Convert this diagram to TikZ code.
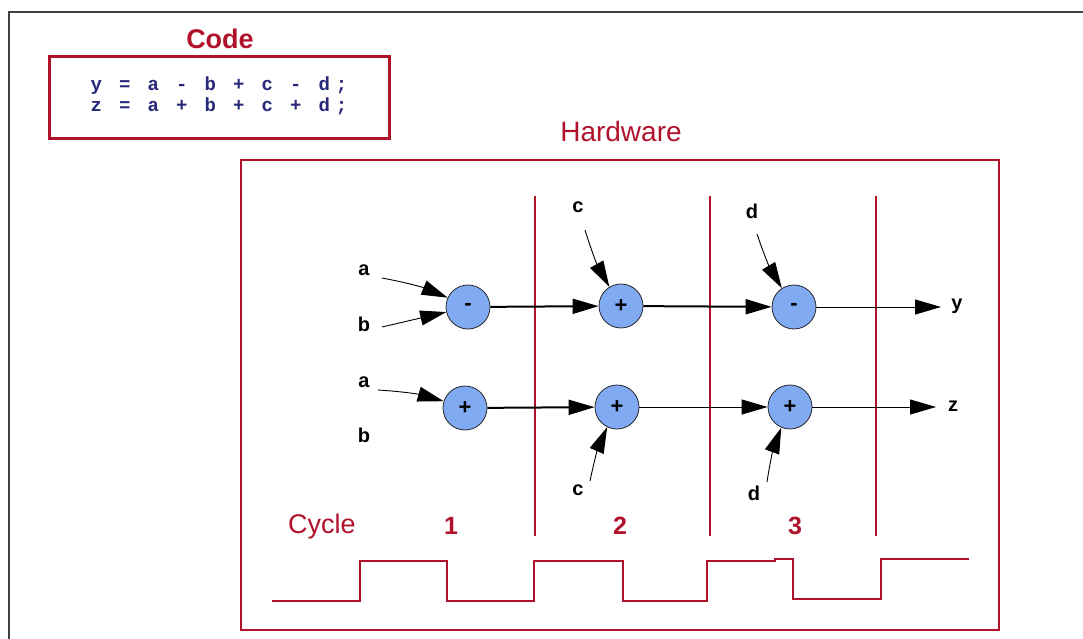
\documentclass[tikz,border=0pt]{standalone}
\usepackage{fontspec}
\setmainfont{Liberation Sans}
\newfontfamily\codefont[LetterSpace=30]{Liberation Mono}
\usetikzlibrary{arrows.meta}

\definecolor{hwred}{RGB}{176,18,44}
\definecolor{opblue}{RGB}{128,170,242}
\definecolor{codeblue}{RGB}{40,40,120}

\tikzset{
  op/.style={circle,draw=black!85,line width=0.8pt,fill=opblue,minimum size=44pt,
    inner sep=0pt,font=\fontsize{22}{22}\selectfont\bfseries},
  sig/.style={inner sep=1pt,font=\fontsize{20}{20}\selectfont\bfseries},
  flow/.style={-{Triangle[length=26pt,width=15pt]},line width=2pt},
  thinflow/.style={-{Triangle[length=26pt,width=15pt]},line width=0.9pt},
  title/.style={text=hwred,inner sep=0pt},
}

\begin{document}
\begin{tikzpicture}[x=1pt,y=-1pt]
\useasboundingbox (0,0) rectangle (1083,639);

% page frame
\draw[line width=2pt,black!75] (9,639) -- (9,12) -- (1083,12);

% source code
\node[title,font=\fontsize{27}{27}\selectfont\bfseries] (codetitle) at (220,39) {Code};
\draw[hwred,line width=3pt] (49,57) rectangle (389,139);
\node[text=codeblue,align=center,inner sep=0pt,font=\codefont\bfseries\fontsize{19}{21}\selectfont]
  (code) at (219,96) {y = a - b + c - d;\\z = a + b + c + d;};

% hardware
\node[title,font=\fontsize{28}{28}\selectfont] (hwtitle) at (621,131) {Hardware};
\draw[hwred,line width=2pt] (241,160) rectangle (999,630);
\foreach \x in {535,710,876}
  \draw[hwred,line width=1.3pt] (\x,196) -- (\x,536);

% operators
\node[op] (m1) at (468,307) {-};
\node[op] (p1) at (621,306) {+};
\node[op] (m2) at (794,307) {-};
\node[op] (p2) at (465,408) {+};
\node[op] (p3) at (617,407) {+};
\node[op] (p4) at (790,407) {+};

% inputs and outputs
\node[sig] (a1) at (364,270) {a};
\node[sig] (b1) at (364,324) {b};
\node[sig] (a2) at (364,382) {a};
\node[sig] (b2) at (364,435) {b};
\node[sig] (c1) at (578,207) {c};
\node[sig] (d1) at (752,211) {d};
\node[sig] (c2) at (578,490) {c};
\node[sig] (d2) at (754,493) {d};
\node[sig] (y) at (957,306) {y};
\node[sig] (z) at (953,406) {z};

\coordinate (ta1) at (382,278);
\coordinate (tb1) at (382,327);
\coordinate (ta2) at (378,390);
\coordinate (tc1) at (585,230);
\coordinate (td1) at (757,234);
\coordinate (tc2) at (590,481);
\coordinate (td2) at (767,482);
\coordinate (yout) at (941,307);
\coordinate (zout) at (936,407);

\draw[thinflow] (ta1) to[bend left=6] (m1);
\draw[thinflow] (tb1) -- (m1);
\draw[thinflow] (ta2) to[bend left=6] (p2);
\draw[thinflow] (tc1) to[bend right=6] (p1);
\draw[thinflow] (td1) to[bend right=6] (m2);
\draw[thinflow] (tc2) to[bend left=6] (p3);
\draw[thinflow] (td2) to[bend left=6] (p4);

\draw[flow] (m1) -- (p1);
\draw[flow] (p1) -- (m2);
\draw[thinflow] (m2) -- (yout);
\draw[flow] (p2) -- (p3);
\draw[thinflow] (p3) -- (p4);
\draw[thinflow] (p4) -- (zout);

% clock
\node[title,font=\fontsize{27}{27}\selectfont] (cycle) at (322,527) {Cycle};
\node[title,font=\fontsize{25}{25}\selectfont\bfseries] (n1) at (451,526) {1};
\node[title,font=\fontsize{25}{25}\selectfont\bfseries] (n2) at (620,526) {2};
\node[title,font=\fontsize{25}{25}\selectfont\bfseries] (n3) at (795,526) {3};
\draw[hwred,line width=1.6pt] (272,601) -- (360,601) -- (360,561) -- (447,561)
  -- (447,601) -- (534,601) -- (534,561) -- (623,561) -- (623,601) -- (707,601)
  -- (707,561) -- (775,561) -- (775,559) -- (793,559) -- (793,599) -- (881,599)
  -- (881,559) -- (969,559);
\end{tikzpicture}
\end{document}
